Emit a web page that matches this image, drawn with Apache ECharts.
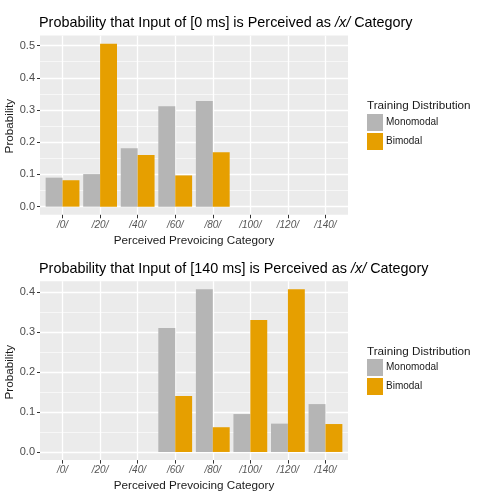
<!DOCTYPE html>
<html><head><meta charset="utf-8">
<script src="https://cdn.jsdelivr.net/npm/echarts@6/dist/echarts.min.js"></script>
<style>html,body{margin:0;padding:0;background:#fff}#c{width:484px;height:504px}</style>
</head><body><div id="c"></div>
<script>
const categories = ['/0/', '/20/', '/40/', '/60/', '/80/', '/100/', '/120/', '/140/'];
const seriesNames = ['Monomodal', 'Bimodal'];
const mono0 = [0.090, 0.101, 0.181, 0.312, 0.328, 0, 0, 0];
const bi0 = [0.082, 0.506, 0.160, 0.097, 0.169, 0, 0, 0];
const mono140 = [0, 0, 0, 0.311, 0.408, 0.095, 0.071, 0.120];
const bi140 = [0, 0, 0, 0.140, 0.062, 0.331, 0.408, 0.070];
const titles = ['0 ms', '140 ms'];
const yMax0 = 0.5, yMax140 = 0.4;

const FONT = '"Liberation Sans", Arial, sans-serif';
const GRAY = '#B5B5B5', ORANGE = '#E69F00';

const chart = echarts.init(document.getElementById('c'));
const option = {animation: false, title: [], legend: [], grid: [], xAxis: [], yAxis: [], series: []};

function addPanel(k, cfg) {
  const L = 40, R = 348, T = cfg.T, B = cfg.B;
  const ySpan = cfg.ymax - cfg.ymin;
  const yPix = v => T + (cfg.ymax - v) / ySpan * (B - T);
  const step = (R - L) / (categories.length - 1 + 1.2);
  const cL = L + 0.6 * step, cR = R - 0.6 * step;
  const base = option.grid.length;
  const gb = {outerBoundsMode: 'none', containLabel: false};
  // panel background grid
  option.grid.push(Object.assign({left: L, top: T, width: R - L, height: B - T, show: true, backgroundColor: '#EBEBEB', borderWidth: 0, z: -1}, gb));
  option.xAxis.push({gridIndex: base, type: 'value', show: false, min: 0, max: 1});
  option.yAxis.push({gridIndex: base, type: 'value', show: false, min: 0, max: 1});
  // y axis grid
  const y0 = yPix(0), yTop = yPix(cfg.yTop);
  option.grid.push(Object.assign({left: L, top: yTop, width: R - L, height: y0 - yTop, show: false}, gb));
  option.xAxis.push({gridIndex: base + 1, type: 'value', show: false, min: 0, max: 1});
  option.yAxis.push({gridIndex: base + 1, type: 'value', min: 0, max: cfg.yTop, interval: 0.1,
    name: 'Probability', nameLocation: 'middle', nameGap: 24, nameMoveOverlap: false,
    nameTextStyle: {fontFamily: FONT, fontSize: 11.7, color: '#1A1A1A'},
    axisLine: {show: false, onZero: false}, axisTick: {show: true, length: 3, lineStyle: {color: '#333333', width: 1}},
    axisLabel: {fontFamily: FONT, fontSize: 11, color: '#4D4D4D', margin: 5, formatter: v => v.toFixed(1)},
    splitLine: {show: true, lineStyle: {color: '#FFFFFF', width: 1.3}},
    minorTick: {show: false, splitNumber: 2},
    minorSplitLine: {show: true, lineStyle: {color: '#FFFFFF', width: 0.6}}, z: 1});
  // bar grid
  option.grid.push(Object.assign({left: cL, top: T, width: cR - cL, height: B - T, show: false}, gb));
  option.xAxis.push({gridIndex: base + 2, type: 'category', data: categories, boundaryGap: false,
    name: 'Perceived Prevoicing Category', nameLocation: 'middle', nameGap: 20,
    nameTextStyle: {fontFamily: FONT, fontSize: 11.7, color: '#1A1A1A'},
    axisLine: {show: false, onZero: false}, axisTick: {show: true, length: 3.5, lineStyle: {color: '#333333', width: 1}},
    axisLabel: {fontFamily: FONT, fontSize: 10, fontStyle: 'italic', color: '#555555', margin: 5, interval: 0},
    splitLine: {show: true, interval: 0, lineStyle: {color: '#FFFFFF', width: 1.3}}, z: 1});
  option.yAxis.push({gridIndex: base + 2, type: 'value', show: false, min: cfg.ymin, max: cfg.ymax});
  [cfg.mono, cfg.bi].forEach((d, i) => {
    option.series.push({type: 'bar', name: seriesNames[i], xAxisIndex: base + 2, yAxisIndex: base + 2,
      data: d, barWidth: '45%', barGap: '0%', clip: false,
      itemStyle: {color: i === 0 ? GRAY : ORANGE}});
  });
  option.title.push({left: L - 1, top: cfg.titleTop, padding: 0,
    text: 'Probability that Input of [' + cfg.label + '] is Perceived as {i|/x/} Category',
    textStyle: {fontFamily: FONT, fontSize: 14.4, fontWeight: 'normal', color: '#000',
      rich: {i: {fontFamily: FONT, fontSize: 14.4, fontStyle: 'italic', color: '#000'}}}});
  option.title.push({left: 367, top: cfg.legTitleTop, padding: 0, text: 'Training Distribution',
    textStyle: {fontFamily: FONT, fontSize: 11.7, fontWeight: 'normal', color: '#1A1A1A'}});
  option.legend.push({left: 367, top: cfg.legTop, orient: 'vertical', padding: 0, itemGap: 2,
    itemWidth: 16, itemHeight: 17, icon: 'rect', selectedMode: false, data: seriesNames,
    textStyle: {fontFamily: FONT, fontSize: 10, color: '#1A1A1A', padding: [0, 0, 0, -2]}});
}

addPanel(0, {T: 35.6, B: 214.8, ymin: -0.0253, ymax: 0.531, yTop: yMax0, mono: mono0, bi: bi0,
  label: titles[0], titleTop: 16, legTitleTop: 100, legTop: 114});
addPanel(1, {T: 281.2, B: 460.1, ymin: -0.0204, ymax: 0.428, yTop: yMax140, mono: mono140, bi: bi140,
  label: titles[1], titleTop: 262, legTitleTop: 346, legTop: 359});

chart.setOption(option);
</script></body></html>
